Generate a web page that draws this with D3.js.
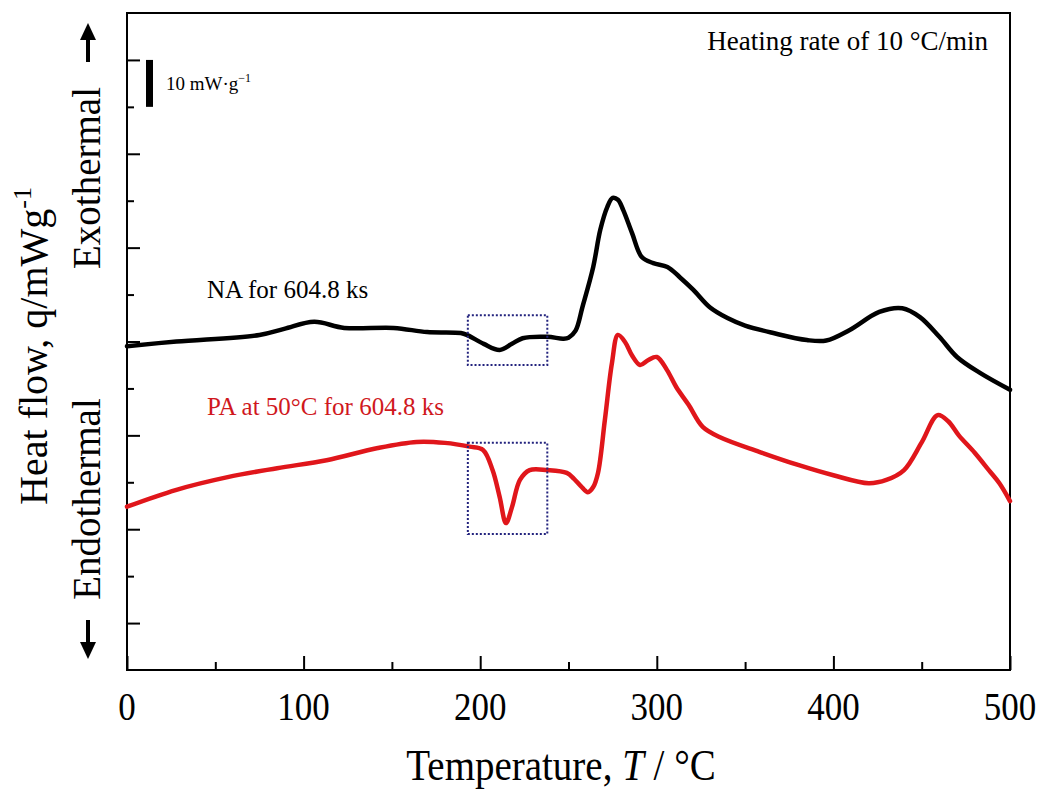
<!DOCTYPE html>
<html>
<head>
<meta charset="utf-8">
<script src="https://cdn.jsdelivr.net/npm/d3@7"></script>
<style>
  html, body { margin: 0; padding: 0; background: #fff; }
  svg { display: block; }
  text { font-family: "Liberation Serif", "Times New Roman", serif; }
</style>
</head>
<body>
<svg id="chart" width="1045" height="790"></svg>
<script>
// ---- Data ----
const naTemp = [0, 28, 75, 89, 106, 123, 151, 170, 189, 193, 202, 211, 218, 224, 238, 247, 250, 254, 258, 264, 268, 272, 275, 278, 281, 286, 291.5, 298, 306, 313, 320.7, 330, 340, 350, 366, 385, 396, 409, 426, 439, 449, 460, 470, 483, 500];
const naFlow = [69.0, 70.0, 71.4, 72.7, 74.2, 72.9, 72.9, 72.0, 71.8, 71.3, 69.5, 68.2, 69.5, 70.7, 71.0, 70.6, 70.8, 72.3, 77.5, 85.9, 93.8, 98.7, 100.6, 100.2, 98.0, 93.1, 88.0, 86.7, 85.9, 83.7, 81.0, 77.3, 75.0, 73.4, 71.8, 70.3, 70.2, 72.4, 76.3, 77.1, 75.2, 71.0, 66.7, 63.3, 59.7];

const paTemp = [0, 28, 57, 85, 113, 142, 164, 180, 194, 201.6, 207, 211, 214.6, 218, 222.5, 228, 238, 249, 253, 257, 261, 264, 266.7, 270.6, 274.6, 278, 282, 286, 290.5, 295, 300, 305.8, 311, 318, 326, 335.8, 358, 380, 400, 420, 430, 440, 450, 459, 465, 471, 480, 488, 494, 500];
const paFlow = [34.8, 38.4, 41.1, 43.0, 44.7, 47.3, 48.6, 48.4, 47.6, 46.9, 42.6, 36.9, 31.3, 34.7, 40.5, 42.6, 42.6, 42.0, 40.8, 39.2, 37.9, 39.0, 42.0, 53.3, 65.4, 71.4, 69.9, 67.0, 65.0, 66.0, 66.7, 63.9, 60.3, 56.5, 51.8, 49.6, 46.5, 43.7, 41.5, 39.8, 40.5, 42.6, 48.5, 54.3, 53.0, 50.0, 46.3, 42.6, 39.8, 36.0];

const xMajorTicks = [0, 100, 200, 300, 400, 500];
const xMinorTicks = [50, 150, 250, 350, 450];
const yMajorTicks = [10, 30, 50, 70, 90, 110, 130];
const yMinorTicks = [20, 40, 60, 80, 100, 120];

const seriesLabels = ["NA for 604.8 ks", "PA at 50°C for 604.8 ks"];
const seriesColors = ["#000000", "#e0161b"];
// dotted boxes: temperature span and flow spans
const boxT = [193, 238];
const boxNA = [65.0, 75.6];
const boxPA = [29.0, 48.4];
const scaleBar = [120, 130];

// ---- Layout ----
const FONT = "'Liberation Serif', 'Times New Roman', serif";
const svg = d3.select("#chart");
const mLeft = 127, mRight = 1010, mTop = 13, mBottom = 670;
const x = d3.scaleLinear().domain([0, 500]).range([mLeft, mRight]);
const y = d3.scaleLinear().domain([0, 140]).range([mBottom, mTop]);

// frame
svg.append("rect").attr("x", mLeft).attr("y", mTop)
  .attr("width", mRight - mLeft).attr("height", mBottom - mTop)
  .attr("fill", "none").attr("stroke", "#000").attr("stroke-width", 2);

// x axis ticks (inside)
const xMajor = svg.append("g").attr("transform", `translate(0,${mBottom})`)
  .call(d3.axisBottom(x).tickValues(xMajorTicks).tickSizeInner(-14).tickSizeOuter(0).tickFormat(""));
const xMinor = svg.append("g").attr("transform", `translate(0,${mBottom})`)
  .call(d3.axisBottom(x).tickValues(xMinorTicks).tickSizeInner(-8).tickSizeOuter(0).tickFormat(""));
[xMajor, xMinor].forEach(g => {
  g.select(".domain").remove();
  g.selectAll(".tick line").attr("stroke", "#000").attr("stroke-width", 2);
});
// x tick labels
svg.append("g").selectAll("text").data(xMajorTicks).join("text")
  .attr("transform", d => `translate(${x(d)},720) scale(1,1.15)`)
  .attr("text-anchor", "middle")
  .attr("font-family", FONT)
  .attr("font-size", 35)
  .text(d => d);

// y axis ticks (inside)
const yMajor = svg.append("g").attr("transform", `translate(${mLeft},0)`)
  .call(d3.axisLeft(y).tickValues(yMajorTicks).tickSizeInner(-13).tickSizeOuter(0).tickFormat(""));
const yMinor = svg.append("g").attr("transform", `translate(${mLeft},0)`)
  .call(d3.axisLeft(y).tickValues(yMinorTicks).tickSizeInner(-7).tickSizeOuter(0).tickFormat(""));
[yMajor, yMinor].forEach(g => {
  g.select(".domain").remove();
  g.selectAll(".tick line").attr("stroke", "#000").attr("stroke-width", 2);
});

// curves
const line = d3.line().x(d => x(d[0])).y(d => y(d[1])).curve(d3.curveCatmullRom.alpha(0.5));
const series = [d3.zip(naTemp, naFlow), d3.zip(paTemp, paFlow)];
svg.append("g").selectAll("path").data(series).join("path")
  .attr("d", line)
  .attr("fill", "none")
  .attr("stroke", (d, i) => seriesColors[i])
  .attr("stroke-width", 4.5)
  .attr("stroke-linejoin", "round")
  .attr("stroke-linecap", "round");

// dotted boxes
[boxNA, boxPA].forEach(b => {
  svg.append("rect")
    .attr("x", x(boxT[0])).attr("y", y(b[1]))
    .attr("width", x(boxT[1]) - x(boxT[0]))
    .attr("height", y(b[0]) - y(b[1]))
    .attr("fill", "none")
    .attr("stroke", "#23237e")
    .attr("stroke-width", 2)
    .attr("stroke-dasharray", "2,2");
});

// series labels
svg.append("text").attr("x", 207).attr("y", 298).attr("font-size", 25)
  .attr("font-family", FONT)
  .attr("fill", seriesColors[0]).text(seriesLabels[0]);
svg.append("text").attr("x", 207).attr("y", 415).attr("font-size", 25)
  .attr("font-family", FONT)
  .attr("fill", "#d0181d").text(seriesLabels[1]);

// heating rate note
svg.append("text").attr("x", 988).attr("y", 50).attr("text-anchor", "end")
  .attr("font-family", FONT)
  .attr("font-size", 27).text("Heating rate of 10 °C/min");

// scale bar
svg.append("rect").attr("x", 146).attr("y", y(scaleBar[1]))
  .attr("width", 7).attr("height", y(scaleBar[0]) - y(scaleBar[1])).attr("fill", "#000");
const sb = svg.append("text").attr("x", 166).attr("y", 90).attr("font-size", 19).attr("font-family", FONT);
sb.append("tspan").text("10 mW·g");
sb.append("tspan").attr("font-size", 12).attr("dy", -8).text("−1");

// x title
const xt = svg.append("text")
  .attr("transform", "translate(561,780) scale(1,1.12)")
  .attr("font-family", FONT)
  .attr("text-anchor", "middle").attr("font-size", 39);
xt.append("tspan").text("Temperature, ");
xt.append("tspan").attr("font-style", "italic").text("T");
xt.append("tspan").text(" / °C");

// y title
const yt = svg.append("text")
  .attr("transform", "translate(47,346) rotate(-90)")
  .attr("font-family", FONT)
  .attr("text-anchor", "middle").attr("font-size", 40);
yt.append("tspan").text("Heat flow, q/mWg");
yt.append("tspan").attr("font-size", 26).attr("dy", -16).text("-1");

svg.append("text").attr("transform", "translate(100,178) rotate(-90)")
  .attr("font-family", FONT)
  .attr("text-anchor", "middle").attr("font-size", 39).text("Exothermal");
svg.append("text").attr("transform", "translate(100,499) rotate(-90)")
  .attr("font-family", FONT)
  .attr("text-anchor", "middle").attr("font-size", 39).text("Endothermal");

// arrows
svg.append("line").attr("x1", 88).attr("x2", 88).attr("y1", 62).attr("y2", 36)
  .attr("stroke", "#000").attr("stroke-width", 4);
svg.append("path").attr("d", "M80,40 L96,40 L88,23 Z").attr("fill", "#000");
svg.append("line").attr("x1", 88).attr("x2", 88).attr("y1", 620).attr("y2", 646)
  .attr("stroke", "#000").attr("stroke-width", 4);
svg.append("path").attr("d", "M80,642 L96,642 L88,659 Z").attr("fill", "#000");
</script>
</body>
</html>
